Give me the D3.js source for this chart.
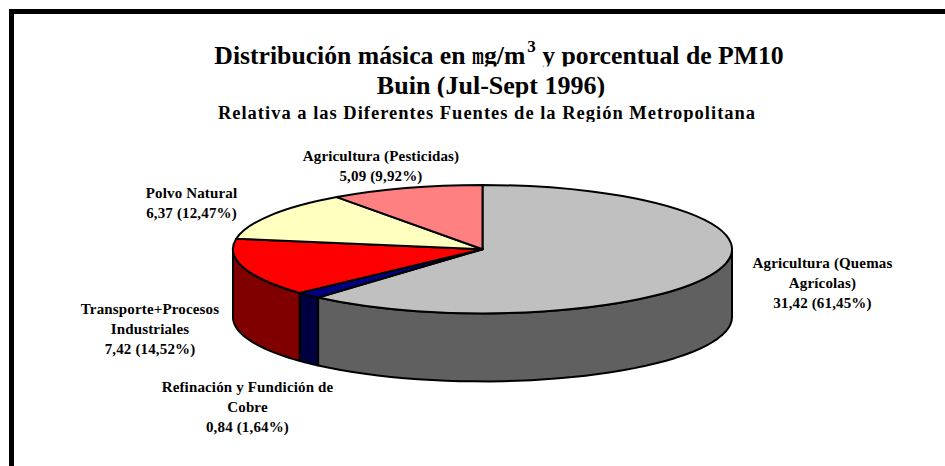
<!DOCTYPE html>
<html><head><meta charset="utf-8">
<script src="https://cdnjs.cloudflare.com/ajax/libs/d3/7.8.5/d3.min.js"></script>
<style>
html,body{margin:0;padding:0;background:#fff;overflow:hidden}
svg{display:block}
text{font-family:"Liberation Serif",serif;font-weight:bold;fill:#000}
</style></head><body>
<svg id="c" width="945" height="466"></svg>
<script>
const categories=["Agricultura (Quemas Agrícolas)","Refinación y Fundición de Cobre","Transporte+Procesos Industriales","Polvo Natural","Agricultura (Pesticidas)"];
const masses=[31.42,0.84,7.42,6.37,5.09];
const percents=[61.45,1.64,14.52,12.47,9.92];
const topColors=["#c0c0c0","#000080","#ff0000","#ffffc0","#ff8080"];
const sideColors=["#606060","#000040","#800000","#808060","#804040"];
const labelLines=[
 ["Agricultura (Quemas","Agrícolas)","31,42 (61,45%)"],
 ["Refinación y Fundición de","Cobre","0,84 (1,64%)"],
 ["Transporte+Procesos","Industriales","7,42 (14,52%)"],
 ["Polvo Natural","6,37 (12,47%)"],
 ["Agricultura (Pesticidas)","5,09 (9,92%)"]];
const labelAnchors=[[822.5,268],[247.5,392],[150,314],[191.5,198],[381,161]];

const svg=d3.select("#c");
const cx=482.5,cy=249.2,rx=249.5,ry=64.2,depth=68;
svg.append("path").attr("d","M11.5 466V11.5H945").attr("fill","none").attr("stroke","#000").attr("stroke-width",5);

const defs=svg.append("defs");
[["clipT",66.5],["clipB",97.5],["clipS",122]].forEach(([id,y])=>{
  defs.append("clipPath").attr("id",id).append("rect").attr("x",0).attr("y",0).attr("width",945).attr("height",y);
});

const t=svg.append("g").attr("clip-path","url(#clipT)").append("text").attr("x",499).attr("y",63.5).attr("text-anchor","middle").attr("font-size",25.7);
t.append("tspan").text("Distribución másica en ");
t.append("tspan").text("m").attr("textLength",12).attr("lengthAdjust","spacingAndGlyphs");
t.append("tspan").text("g/m");
t.append("tspan").text("3").attr("font-size",17).attr("dy",-12).attr("dx",2);
t.append("tspan").text(" y porcentual de PM10").attr("dy",12);
svg.append("g").attr("clip-path","url(#clipB)").append("text").attr("x",491).attr("y",94).attr("text-anchor","middle").attr("font-size",26).text("Buin (Jul-Sept 1996)");
svg.append("g").attr("clip-path","url(#clipS)").append("text").attr("x",487).attr("y",119).attr("text-anchor","middle").attr("font-size",18.5).attr("letter-spacing",1).text("Relativa a las Diferentes Fuentes de la Región Metropolitana");

const arcs=d3.pie().sort(null).value(d=>d)(percents);
const px=a=>cx+rx*Math.sin(a), py=a=>cy-ry*Math.cos(a);
const line=d3.line();
arcs.forEach((d,i)=>{
  const a0=Math.max(d.startAngle,Math.PI/2), a1=Math.min(d.endAngle,3*Math.PI/2);
  if(a1<=a0) return;
  const ang=d3.range(0,41).map(k=>a0+(a1-a0)*k/40);
  const pts=ang.map(a=>[px(a),py(a)]).concat(ang.slice().reverse().map(a=>[px(a),py(a)+depth]));
  svg.append("path").attr("d",line(pts)+"Z").attr("fill",sideColors[i]).attr("stroke","#000").attr("stroke-width",2).attr("stroke-linejoin","round");
});
const arc=d3.arc().innerRadius(0).outerRadius(1);
const g=svg.append("g").attr("transform",`translate(${cx},${cy}) scale(${rx},${ry})`);
g.selectAll("path").data(arcs).join("path").attr("d",arc)
 .attr("fill",(d,i)=>topColors[i]).attr("stroke","#000").attr("stroke-width",2)
 .attr("stroke-linejoin","round").attr("vector-effect","non-scaling-stroke");

labelLines.forEach((ls,i)=>{
  const tx=svg.append("text").attr("text-anchor","middle").attr("font-size",15).attr("letter-spacing",0.15);
  ls.forEach((s,j)=>tx.append("tspan").attr("x",labelAnchors[i][0]).attr("y",labelAnchors[i][1]+j*20).text(s));
});
</script></body></html>
